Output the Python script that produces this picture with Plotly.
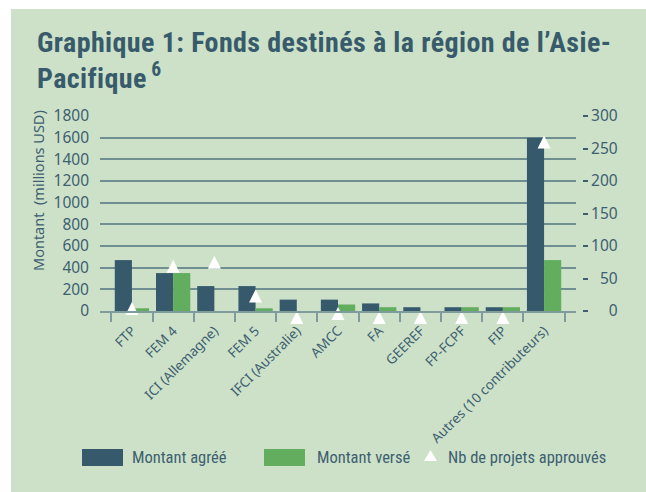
import plotly.graph_objects as go

categories = ["FTP", "FEM 4", "ICI (Allemagne)", "FEM 5", "IFCI (Australie)", "AMCC",
              "FA", "GEEREF", "FP-FCPF", "FIP", "Autres (10 contributeurs)"]
montant_agree = [470, 350, 230, 230, 105, 105, 70, 35, 35, 35, 1600]
montant_verse = [25, 350, 0, 25, 0, 60, 35, 0, 35, 35, 470]
nb_projets = [14, 79, 85, 33, 0, 6, 0, 0, 0, 0, 270]
left_ticks = [0, 200, 400, 600, 800, 1000, 1200, 1400, 1600, 1800]
right_ticks = [0, 50, 100, 150, 200, 250, 300]

W, H = 646, 492
L, R, T, B = 100, 64, 116, 181
PW, PH = W - L - R, H - T - B

DARK = "#365a6c"
GREEN = "#62ad5e"
BG = "#cce1c8"
GRID = "#6f8f90"
TXT = "#3e5f70"
NUM_FONT = "Noto Sans, Open Sans, sans-serif"
COND_FONT = "Roboto Condensed, Roboto, sans-serif"


def px(x):
    return (x - L) / PW


def py(y):
    return 1 - (y - T) / PH


fig = go.Figure()
fig.add_trace(go.Bar(x=categories, y=montant_agree, name="Montant agréé",
                     marker=dict(color=DARK, line=dict(width=0)), showlegend=False))
fig.add_trace(go.Bar(x=categories, y=montant_verse, name="Montant versé",
                     marker=dict(color=GREEN, line=dict(width=0)), showlegend=False))
fig.add_trace(go.Scatter(x=categories, y=nb_projets, name="Nb de projets approuvés",
                         mode="markers", yaxis="y2", cliponaxis=False,
                         marker=dict(symbol="arrow-up", size=13, color="white",
                                     line=dict(width=0)),
                         showlegend=False))

right_text = [("\u2007" * (3 - len(str(v)))) + str(v) for v in right_ticks]

fig.update_layout(
    width=W, height=H,
    margin=dict(l=L, r=R, t=T, b=B, pad=0),
    paper_bgcolor="white",
    plot_bgcolor="rgba(0,0,0,0)",
    barmode="group", bargap=0.168, bargroupgap=0,
    xaxis=dict(domain=[0, 476 / PW], type="category", tickangle=-45,
               ticks="outside", tickson="boundaries", ticklen=9, tickcolor="#7f9c9c",
               tickwidth=1.5, showline=True, linecolor="#7f9c9c", linewidth=1.5,
               ticklabelstandoff=5,
               showgrid=False, tickfont=dict(family=NUM_FONT, size=13.5, color=TXT)),
    yaxis=dict(range=[0, 1800], tickvals=left_ticks, showgrid=True, gridcolor=GRID,
               gridwidth=1.5, zeroline=False, ticks="", ticklabelstandoff=10,
               tickfont=dict(family=NUM_FONT, size=15.5, color=TXT)),
    yaxis2=dict(range=[0, 300], overlaying="y", side="right", anchor="free", position=1.0,
                tickvals=right_ticks, ticktext=right_text, ticks="outside", ticklen=5,
                tickcolor=TXT, tickwidth=1.5, showgrid=False, zeroline=False,
                showline=False, ticklabelstandoff=0,
                tickfont=dict(family=NUM_FONT, size=15.5, color=TXT)),
    showlegend=False,
)

# panel background
fig.add_shape(type="rect", xref="paper", yref="paper", x0=px(11), x1=px(W + 5),
              y0=py(H + 5), y1=py(9), fillcolor=BG, line=dict(width=0), layer="below")

# title (two lines)
TITLE_FONT = dict(family=COND_FONT, size=28, color="#385b6c")
fig.add_annotation(xref="paper", yref="paper", x=px(35), y=py(42), xanchor="left",
                   yanchor="middle", align="left", showarrow=False,
                   text="<b><span style='letter-spacing:0.4px'>Graphique 1: Fonds destinés à la région de l’Asie-</span></b>",
                   font=TITLE_FONT)
fig.add_annotation(xref="paper", yref="paper", x=px(35), y=py(76), xanchor="left",
                   yanchor="middle", align="left", showarrow=False,
                   text="<b><span style='letter-spacing:0.4px'>Pacifique</span><sup> 6</sup></b>",
                   font=TITLE_FONT)

# y axis title
fig.add_annotation(xref="paper", yref="paper", x=px(38), y=py(191), textangle=-90,
                   xanchor="center", yanchor="middle",
                   showarrow=False, text="Montant\u00a0 (millions USD)",
                   font=dict(family=NUM_FONT, size=14.5, color=TXT))

# legend
leg_y0, leg_y1 = 449, 466
fig.add_shape(type="rect", xref="paper", yref="paper", x0=px(82), x1=px(123),
              y0=py(leg_y1), y1=py(leg_y0), fillcolor=DARK, line=dict(width=0))
fig.add_shape(type="rect", xref="paper", yref="paper", x0=px(264), x1=px(305),
              y0=py(leg_y1), y1=py(leg_y0), fillcolor=GREEN, line=dict(width=0))
fig.add_shape(type="path", xref="paper", yref="paper",
              path=f"M {px(424)},{py(461)} L {px(437)},{py(461)} L {px(430.5)},{py(450)} Z",
              fillcolor="white", line=dict(width=0))
for xx, label in [(130, "Montant agréé"), (315, "Montant versé"), (446, "Nb de projets approuvés")]:
    fig.add_annotation(xref="paper", yref="paper", x=px(xx), y=py(457.5), xanchor="left",
                       yanchor="middle", showarrow=False, text=label,
                       font=dict(family=COND_FONT, size=16.5, color=TXT))

fig.write_html("out.html")
